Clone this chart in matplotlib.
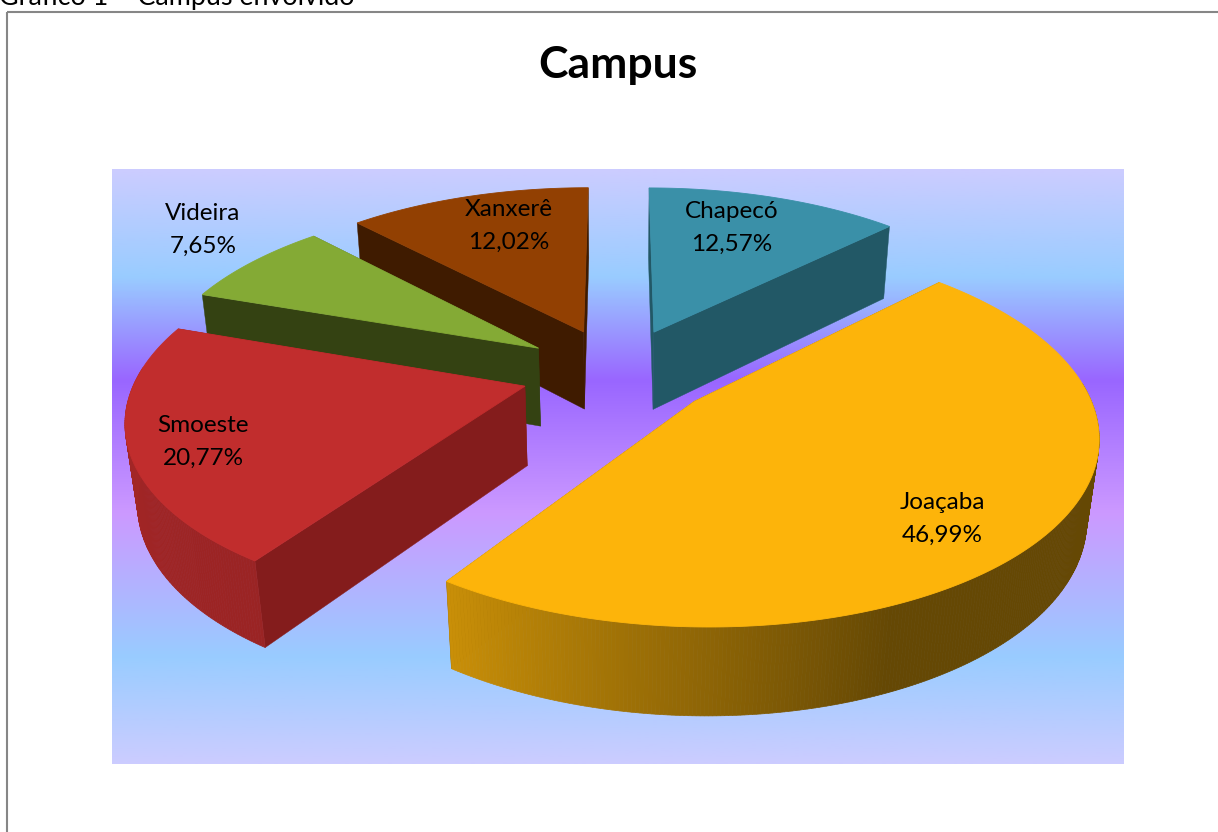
import numpy as np
import matplotlib
matplotlib.use("Agg")
import matplotlib.pyplot as plt
from matplotlib.colors import LinearSegmentedColormap, to_rgb
from matplotlib.patches import Polygon, Rectangle

campus = ["Chapecó", "Joaçaba", "Smoeste", "Videira", "Xanxerê"]
percent = [12.57, 46.99, 20.77, 7.65, 12.02]
percent_labels = ["12,57%", "46,99%", "20,77%", "7,65%", "12,02%"]

top_colors = ["#3a90a8", "#fdb40a", "#c12d2d", "#84aa35", "#924002"]
cut_colors = ["#225866", "#654803", "#841c1c", "#344212", "#3f1b00"]
label_pos = [(732, 228), (942, 519), (203, 442), (203, 230), (509, 226)]
# painter order, back to front
draw_order = [0, 4, 3, 2, 1]

# projection of the 3d pie into pixels
cx, cy = 618, 372
rx, ry = 387, 179
depth = 81
persp_y, persp_z = 0.16, 0.025
explode = 0.25


def project(x, y, z=0.0):
    w = 1 + persp_y * y + persp_z * z
    return cx + rx * x / w, cy - ry * y / w + depth * z / w


def side_shade(deg):
    return np.interp(deg, [157, 215, 270, 360], [0.4, 0.8, 0.85, 0.85])


fig = plt.figure(figsize=(12.18, 8.32), dpi=100)
ax = fig.add_axes([0, 0, 1, 1])
plt.rcParams["font.family"] = ["Lato", "DejaVu Sans"]

# plot area gradient
stops = [(169, "#ccccff"), (277, "#99ccff"), (380, "#9966ff"),
         (513, "#cc99ff"), (657, "#99ccff"), (764, "#ccccff")]
span = stops[-1][0] - stops[0][0]
cmap = LinearSegmentedColormap.from_list(
    "bg", [((p - stops[0][0]) / span, c) for p, c in stops], N=512)
ax.imshow(np.linspace(0, 1, 512).reshape(-1, 1), cmap=cmap, aspect="auto",
          extent=(112, 1124, 764, 169), zorder=0)

ax.add_patch(Rectangle((7, 11.5), 1300, 900, fill=False, ec="#868686", lw=1.5, zorder=1))

edges = np.cumsum([0] + percent) / sum(percent) * 360
z = 2
for i in draw_order:
    a0, a1 = edges[i], edges[i + 1]
    mid = np.radians((a0 + a1) / 2)
    ox, oy = explode * np.sin(mid), explode * np.cos(mid)
    degs = np.linspace(a0, a1, max(int(a1 - a0) * 2, 8))
    rim_x = ox + np.sin(np.radians(degs))
    rim_y = oy + np.cos(np.radians(degs))

    # the two cut faces
    for d in (a0, a1):
        ex = ox + np.sin(np.radians(d))
        ey = oy + np.cos(np.radians(d))
        face = [project(ox, oy), project(ex, ey), project(ex, ey, 1), project(ox, oy, 1)]
        ax.add_patch(Polygon(face, fc=cut_colors[i], ec=cut_colors[i], lw=0.3, zorder=z))

    # outer wall, one facet per step so the shading can change
    # facets turned away from the viewer are skipped
    base = np.array(to_rgb(top_colors[i]))
    for j in range(len(degs) - 1):
        d = (degs[j] + degs[j + 1]) / 2
        if np.cos(np.radians(d)) > 0.1:
            continue
        shade = np.clip(base * side_shade(d), 0, 1)
        facet = [project(rim_x[j], rim_y[j]), project(rim_x[j + 1], rim_y[j + 1]),
                 project(rim_x[j + 1], rim_y[j + 1], 1), project(rim_x[j], rim_y[j], 1)]
        ax.add_patch(Polygon(facet, fc=shade, ec=shade, lw=0.5, zorder=z))

    # top face
    pts = [project(ox, oy)] + [project(a, b) for a, b in zip(rim_x, rim_y)]
    ax.add_patch(Polygon(pts, fc=top_colors[i], ec=top_colors[i], lw=0.6, zorder=z))
    z += 1

for name, lab, pos in zip(campus, percent_labels, label_pos):
    ax.text(pos[0], pos[1], name + "\n" + lab, ha="center", va="center",
            fontsize=17.5, linespacing=1.7, color="black", zorder=20)

ax.text(618, 65, "Campus", ha="center", va="center", fontsize=32, fontweight="bold", zorder=20)
ax.text(-1, 5, "Gráfico 1 – Campus envolvido", ha="left", va="baseline", fontsize=19.4, zorder=20)

ax.set_xlim(0, 1218)
ax.set_ylim(832, 0)
ax.axis("off")
fig.savefig("out.png", dpi=100)
